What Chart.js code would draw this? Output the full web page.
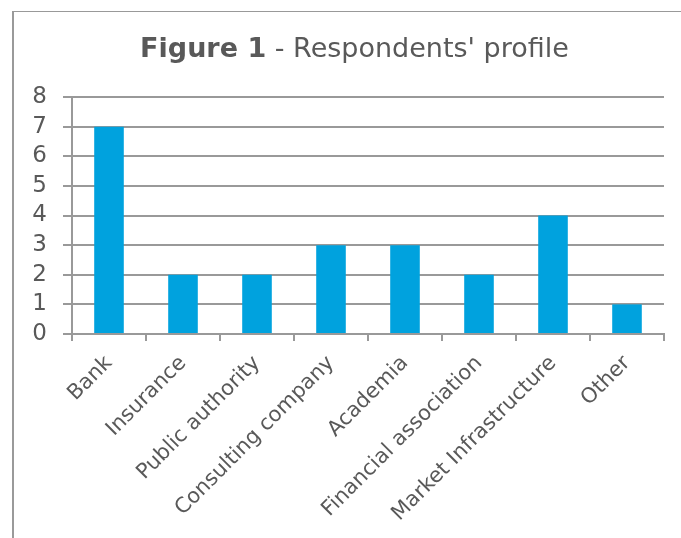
<!DOCTYPE html>
<html>
<head>
<meta charset="utf-8">
<script src="https://cdn.jsdelivr.net/npm/chart.js@4/dist/chart.umd.min.js"></script>
<style>
  html, body { margin: 0; padding: 0; background: #fff; }
  #wrap { position: relative; width: 681px; height: 538px; overflow: hidden; }
  #frame { position: absolute; left: 12px; top: 11px; width: 700px; height: 600px;
           border-top: 1px solid #999; border-left: 2px solid #9a9a9a; }
  #title { position: absolute; left: 0; width: 709px; top: 32px; text-align: center; line-height: 31px;
           font-family: "DejaVu Sans", Verdana, sans-serif; font-size: 27px; color: #595959; white-space: nowrap; }
  canvas { position: absolute; left: 0; top: 0; }
</style>
</head>
<body>
<div id="wrap">
  <div id="frame"></div>
  <canvas id="c" width="681" height="538"></canvas>
  <div id="title"><b>Figure 1</b> - Respondents' profile</div>
</div>
<script>
const categories = ["Bank", "Insurance", "Public authority", "Consulting company", "Academia", "Financial association", "Market Infrastructure", "Other"];
const respondents = [7, 2, 2, 3, 3, 2, 4, 1];
const yTicks = [0, 1, 2, 3, 4, 5, 6, 7, 8];

const gridColor = "#999999";
const textColor = "#595959";

new Chart(document.getElementById("c"), {
  type: "bar",
  data: {
    labels: categories,
    datasets: [{
      data: respondents,
      backgroundColor: "#00a2de",
      borderWidth: 0,
      barPercentage: 0.4,
      categoryPercentage: 1.0
    }]
  },
  options: {
    responsive: false,
    animation: false,
    events: [],
    layout: { padding: { top: 97, right: 17, left: 0, bottom: 0 } },
    plugins: { legend: { display: false }, title: { display: false }, tooltip: { enabled: false } },
    scales: {
      x: {
        offset: true,
        grid: { display: true, drawOnChartArea: false, drawTicks: true, tickLength: 7, offset: true, color: gridColor, lineWidth: 2 },
        border: { display: true, color: gridColor, width: 2 },
        ticks: { color: textColor, font: { family: "DejaVu Sans", size: 21 }, minRotation: 45, maxRotation: 45, padding: 10, autoSkip: false },
        afterFit: s => { s.height = 204; }
      },
      y: {
        min: 0, max: 8,
        afterBuildTicks: s => { s.ticks = yTicks.map(v => ({ value: v })); },
        grid: { color: gridColor, lineWidth: 2, tickLength: 9 },
        border: { display: true, color: gridColor, width: 2 },
        ticks: { color: textColor, font: { family: "DejaVu Sans", size: 23 }, padding: 16, autoSkip: false, stepSize: 1 },
        afterFit: s => { s.width = 72; }
      }
    }
  }
});
</script>
</body>
</html>
